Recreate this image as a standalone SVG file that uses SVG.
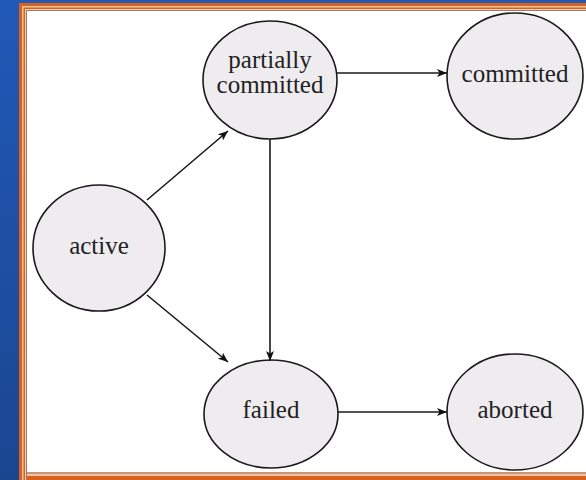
<svg xmlns="http://www.w3.org/2000/svg" width="586" height="480" viewBox="0 0 586 480">
<defs>
<linearGradient id="bg" x1="0" y1="0" x2="0" y2="1">
<stop offset="0" stop-color="#2159b8"/>
<stop offset="1" stop-color="#1a4690"/>
</linearGradient>
<marker id="arr" viewBox="0 0 10 8" refX="10" refY="4" markerWidth="10" markerHeight="8" markerUnits="userSpaceOnUse" orient="auto">
<path d="M0,0 L10,4 L0,8 L2.5,4 Z" fill="#111"/>
</marker>
</defs>
<style>
.st ellipse{fill:#efecf0;stroke:#1a1a1a;stroke-width:1.6}
.st text{font-family:"Liberation Serif","Times New Roman",serif;font-size:25px;fill:#222;text-anchor:middle}
.cn line{stroke:#1a1a1a;stroke-width:1.6;marker-end:url(#arr)}
</style>
<rect width="586" height="480" fill="url(#bg)"/>
<rect x="19" y="3" width="580" height="490" fill="#d9601e"/>
<rect x="22" y="6" width="574" height="484" fill="#f2c6a0"/>
<rect x="23.5" y="7.5" width="571" height="481" fill="#d9601e"/>
<rect x="25" y="9" width="568" height="478" fill="#f0d2b8"/>
<rect x="26" y="10" width="566" height="476" fill="#a07a66"/>
<rect x="27" y="11" width="564" height="474" fill="#ffffff"/>
<rect x="27" y="472" width="564" height="2" fill="#c89678"/>
<rect x="27" y="474" width="564" height="2" fill="#f2c6a0"/>
<rect x="27" y="476" width="564" height="4" fill="#d9601e"/>
<g class="st" id="partially_committed">
<ellipse cx="270" cy="80" rx="67" ry="59"/>
<text x="270" y="68">partially</text>
<text x="270" y="93">committed</text>
</g>
<g class="st" id="committed">
<ellipse cx="515" cy="76" rx="68" ry="63"/>
<text x="515" y="82">committed</text>
</g>
<g class="st" id="active">
<ellipse cx="99" cy="248" rx="66" ry="63"/>
<text x="99" y="254">active</text>
</g>
<g class="st" id="failed">
<ellipse cx="271" cy="414" rx="67" ry="54"/>
<text x="271" y="418">failed</text>
</g>
<g class="st" id="aborted">
<ellipse cx="515" cy="412" rx="68" ry="58"/>
<text x="515" y="418">aborted</text>
</g>
<g class="cn" id="connectors">
<line x1="147" y1="200" x2="228" y2="131"/>
<line x1="147" y1="295" x2="228" y2="362"/>
<line x1="270" y1="139" x2="270" y2="361"/>
<line x1="337" y1="73" x2="447" y2="73"/>
<line x1="338" y1="412" x2="447" y2="412"/>
</g>
</svg>
